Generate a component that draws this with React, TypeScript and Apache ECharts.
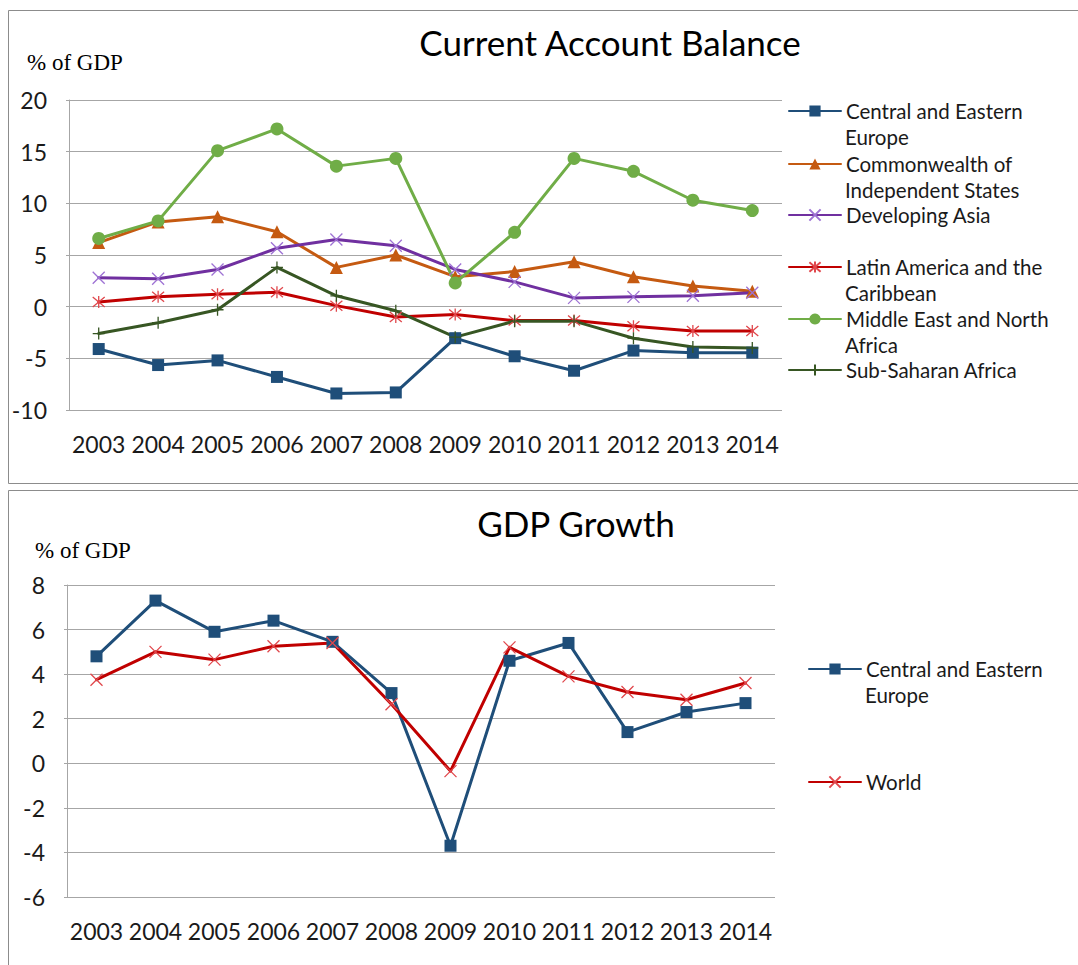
import React, { useEffect, useRef } from "react";
import * as echarts from "echarts";

const years = ["2003", "2004", "2005", "2006", "2007", "2008", "2009", "2010", "2011", "2012", "2013", "2014"];

// Current account balance, % of GDP
const ceeCA = [-4.1, -5.65, -5.2, -6.8, -8.4, -8.3, -3.05, -4.8, -6.2, -4.25, -4.45, -4.45];
const cisCA = [6.2, 8.2, 8.7, 7.25, 3.8, 5.0, 2.9, 3.4, 4.35, 2.9, 2.0, 1.5];
const asiaCA = [2.8, 2.7, 3.6, 5.65, 6.5, 5.9, 3.6, 2.4, 0.85, 0.95, 1.05, 1.35];
const latamCA = [0.45, 0.95, 1.2, 1.4, 0.1, -1.0, -0.75, -1.35, -1.35, -1.9, -2.35, -2.35];
const menaCA = [6.6, 8.3, 15.1, 17.2, 13.6, 14.35, 2.3, 7.2, 14.35, 13.1, 10.3, 9.3];
const ssaCA = [-2.6, -1.55, -0.3, 3.8, 1.05, -0.4, -2.95, -1.4, -1.4, -3.05, -3.9, -4.0];

// GDP growth
const ceeGrowth = [4.8, 7.3, 5.9, 6.4, 5.45, 3.15, -3.7, 4.6, 5.4, 1.4, 2.3, 2.7];
const worldGrowth = [3.75, 5.0, 4.65, 5.25, 5.4, 2.65, -0.35, 5.2, 3.9, 3.2, 2.85, 3.6];

const caTicks = { min: -10, max: 20, interval: 5 };
const growthTicks = { min: -6, max: 8, interval: 2 };

const CEE = "Central and Eastern Europe";
const CIS = "Commonwealth of Independent States";
const ASIA = "Developing Asia";
const LATAM = "Latin America and the Caribbean";
const MENA = "Middle East and North Africa";
const SSA = "Sub-Saharan Africa";
const WORLD = "World";

// legend wording split into the two lines shown
const legendLines: Record<string, string[]> = {
  [CEE]: ["Central and Eastern", "Europe"],
  [CIS]: ["Commonwealth of", "Independent States"],
  [ASIA]: ["Developing Asia"],
  [LATAM]: ["Latin America and the", "Caribbean"],
  [MENA]: ["Middle East and North", "Africa"],
  [SSA]: ["Sub-Saharan Africa"],
  [WORLD]: ["World"],
};

const SANS = "Lato, 'Open Sans', sans-serif";
const SERIF = "'Liberation Serif', 'DejaVu Serif', serif";
const TEXT = "#1a1a1a";
const GRID = "#a6a6a6";
const LEGEND_FONT = 20.5;
const LINE_GAP = 26;

const X_PATH = "path://M0,0L10,10M10,0L0,10";
const STAR_PATH = "path://M0,0L10,10M10,0L0,10M5,-1L5,11";
const PLUS_PATH = "path://M5,0L5,10M0,5L10,5";

function series(
  name: string,
  data: number[],
  axis: number,
  color: string,
  symbol: string,
  symbolSize: number,
  markerFill: string,
  markerStroke?: string
) {
  return {
    type: "line",
    name,
    data,
    xAxisIndex: axis,
    yAxisIndex: axis,
    symbol,
    symbolSize,
    showAllSymbol: true,
    lineStyle: { color, width: 3, cap: "round", join: "round" },
    itemStyle: markerStroke
      ? { color: markerFill, borderColor: markerStroke, borderWidth: 1.3 }
      : { color: markerFill, borderWidth: 0 },
    emphasis: { disabled: true },
    z: 3,
  };
}

function legend(name: string, left: number, centerY: number) {
  return {
    orient: "vertical",
    left,
    top: centerY - 13.5,
    padding: 0,
    itemWidth: 52,
    itemHeight: 14,
    itemGap: 0,
    selectedMode: false,
    data: [name],
    formatter: (n: string) => legendLines[n][0],
    textStyle: {
      fontFamily: SANS,
      fontSize: LEGEND_FONT,
      color: TEXT,
      lineHeight: 27,
    },
  };
}

function secondLine(name: string, left: number, centerY: number) {
  const lines = legendLines[name];
  if (lines.length < 2) return null;
  return {
    type: "text",
    x: left + 57,
    y: centerY + LINE_GAP,
    style: {
      text: lines[1],
      fontFamily: SANS,
      fontSize: LEGEND_FONT,
      fill: TEXT,
      align: "left",
      verticalAlign: "middle",
    },
  };
}

function yAxis(gridIndex: number, ticks: { min: number; max: number; interval: number }) {
  return {
    type: "value",
    gridIndex,
    min: ticks.min,
    max: ticks.max,
    interval: ticks.interval,
    axisLine: { show: true, lineStyle: { color: GRID, width: 1 } },
    axisTick: { show: true, length: 3, lineStyle: { color: GRID } },
    splitLine: { show: true, lineStyle: { color: GRID, width: 1 } },
    axisLabel: { fontFamily: SANS, fontSize: 23, color: TEXT, margin: 22 },
  };
}

function xAxis(gridIndex: number) {
  return {
    type: "category",
    gridIndex,
    data: years,
    boundaryGap: true,
    axisLine: { show: false, onZero: false },
    axisTick: { show: false },
    splitLine: { show: false },
    axisLabel: { fontFamily: SANS, fontSize: 23, color: TEXT, margin: 22, interval: 0 },
  };
}

const legendSpots: [string, number, number][] = [
  [CEE, 788, 111],
  [CIS, 788, 164],
  [ASIA, 788, 215],
  [LATAM, 788, 267],
  [MENA, 788, 319],
  [SSA, 788, 370],
  [CEE, 808, 669],
  [WORLD, 808, 782],
];

export default function App() {
  const ref = useRef<HTMLDivElement>(null);
  useEffect(() => {
    if (!ref.current) return;
    const chart = echarts.init(ref.current, null, { renderer: "svg" });
    const secondLines = legendSpots
      .map(([n, l, y]) => secondLine(n, l, y))
      .filter((g) => g !== null);
    chart.setOption({
      animation: false,
      backgroundColor: "#ffffff",
      grid: [
        { left: 69, top: 100, width: 713, height: 310 },
        { left: 67, top: 585, width: 708, height: 312 },
      ],
      xAxis: [xAxis(0), xAxis(1)],
      yAxis: [yAxis(0, caTicks), yAxis(1, growthTicks)],
      legend: legendSpots.map(([n, l, y]) => legend(n, l, y)),
      graphic: [
        {
          type: "rect",
          z: -10,
          shape: { x: 8.5, y: 10.5, width: 1100, height: 473 },
          style: { fill: "none", stroke: "#8c8c8c", lineWidth: 1 },
        },
        {
          type: "rect",
          z: -10,
          shape: { x: 8.5, y: 490.5, width: 1100, height: 520 },
          style: { fill: "none", stroke: "#8c8c8c", lineWidth: 1 },
        },
        {
          type: "text",
          x: 610,
          y: 42,
          style: {
            text: "Current Account Balance",
            fontFamily: SANS,
            fontSize: 35,
            fill: "#000",
            align: "center",
            verticalAlign: "middle",
          },
        },
        {
          type: "text",
          x: 576,
          y: 523,
          style: {
            text: "GDP Growth",
            fontFamily: SANS,
            fontSize: 35,
            fill: "#000",
            align: "center",
            verticalAlign: "middle",
          },
        },
        {
          type: "text",
          x: 27,
          y: 62,
          style: {
            text: "% of GDP",
            fontFamily: SERIF,
            fontSize: 23,
            fill: "#000",
            align: "left",
            verticalAlign: "middle",
          },
        },
        {
          type: "text",
          x: 35,
          y: 550,
          style: {
            text: "% of GDP",
            fontFamily: SERIF,
            fontSize: 23,
            fill: "#000",
            align: "left",
            verticalAlign: "middle",
          },
        },
        ...secondLines,
      ],
      series: [
        series(CEE, ceeCA, 0, "#1f4e79", "rect", 12, "#1f4e79"),
        series(CIS, cisCA, 0, "#c55a11", "triangle", 13, "#c55a11"),
        series(ASIA, asiaCA, 0, "#7030a0", X_PATH, 12, "rgba(0,0,0,0)", "#9e72d4"),
        series(LATAM, latamCA, 0, "#c00000", STAR_PATH, 12, "rgba(0,0,0,0)", "#e0474c"),
        series(MENA, menaCA, 0, "#70ad47", "circle", 13, "#70ad47"),
        series(SSA, ssaCA, 0, "#375623", PLUS_PATH, 12, "rgba(0,0,0,0)", "#375623"),
        series(CEE, ceeGrowth, 1, "#1f4e79", "rect", 12, "#1f4e79"),
        series(WORLD, worldGrowth, 1, "#c00000", X_PATH, 12, "rgba(0,0,0,0)", "#e0474c"),
      ],
    });
    return () => chart.dispose();
  }, []);
  return (
    <div
      ref={ref}
      style={{ position: "fixed", left: 0, top: 0, width: 1078, height: 965 }}
    />
  );
}
